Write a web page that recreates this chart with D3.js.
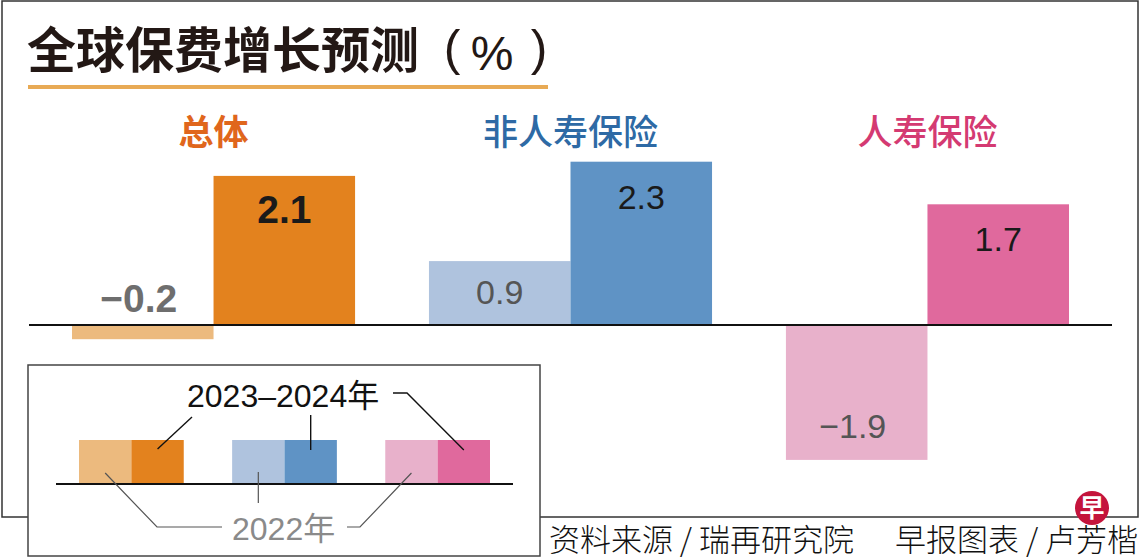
<!DOCTYPE html>
<html>
<head>
<meta charset="utf-8">
<script src="https://cdn.jsdelivr.net/npm/d3@7"></script>
<style>
  html, body { margin: 0; padding: 0; background: #fff; }
  svg { display: block; }
  .cjk { font-family: "Noto Sans CJK SC", sans-serif; }
  .num { font-family: "Liberation Sans", Arial, "Noto Sans CJK SC", sans-serif; }
</style>
</head>
<body>
<svg id="chart" width="1140" height="560"></svg>
<script>
// data
var categories = ['总体', '非人寿保险', '人寿保险'];
var periods = ['2022年', '2023–2024年'];
var values2022 = [-0.2, 0.9, -1.9];
var values2023 = [2.1, 2.3, 1.7];
var valueLabels2022 = ['−0.2', '0.9', '−1.9'];
var valueLabels2023 = ['2.1', '2.3', '1.7'];

var lightColors = ['#ecba7e', '#afc3de', '#e8b1cb'];
var darkColors = ['#e3821e', '#5f93c5', '#e0699d'];
var catColors = ['#e0661c', '#2e6aa5', '#d43a72'];

var svg = d3.select('#chart');

// outer frame
svg.append('rect')
    .attr('x', 2).attr('y', 1)
    .attr('width', 1136).attr('height', 516)
    .attr('fill', 'none')
    .attr('stroke', '#333')
    .attr('stroke-width', 1.5);

// title
var title = svg.append('g').attr('fill', '#231815');
title.append('text')
    .attr('class', 'cjk')
    .attr('x', 27).attr('y', 68)
    .attr('font-size', 49)
    .attr('font-weight', 'bold')
    .text('全球保费增长预测');
title.append('text')
    .attr('class', 'num')
    .attr('text-anchor', 'middle')
    .attr('x', 452).attr('y', 65)
    .attr('font-size', 50)
    .text('(');
title.append('text')
    .attr('class', 'num')
    .attr('text-anchor', 'middle')
    .attr('x', 492).attr('y', 70)
    .attr('font-size', 48)
    .text('%');
title.append('text')
    .attr('class', 'num')
    .attr('text-anchor', 'middle')
    .attr('x', 539).attr('y', 65)
    .attr('font-size', 50)
    .text(')');

svg.append('rect')
    .attr('x', 28).attr('y', 85)
    .attr('width', 520).attr('height', 4)
    .attr('fill', '#e8aa55');

// scales
var x0 = d3.scaleBand()
    .domain(categories)
    .range([72, 1069])
    .paddingInner(0.207);

var x1 = d3.scaleBand()
    .domain(periods)
    .range([0, x0.bandwidth()]);

var y = d3.scaleLinear()
    .domain([-2, 2.5])
    .range([467, 147.5]);

var rows = categories.map(function(c, i) {
    return [
        { cat: c, i: i, period: periods[0], value: values2022[i], label: valueLabels2022[i], color: lightColors[i], dark: false },
        { cat: c, i: i, period: periods[1], value: values2023[i], label: valueLabels2023[i], color: darkColors[i], dark: true }
    ];
});
var bars = [].concat.apply([], rows);

var g = svg.append('g');

g.selectAll('.bar')
    .data(bars)
    .enter().append('rect')
    .attr('class', 'bar')
    .attr('x', function(d) { return x0(d.cat) + x1(d.period); })
    .attr('width', x1.bandwidth())
    .attr('y', function(d) { return y(Math.max(0, d.value)); })
    .attr('height', function(d) { return Math.abs(y(d.value) - y(0)); })
    .attr('fill', function(d) { return d.color; });

// zero line
g.append('line')
    .attr('x1', 29).attr('x2', 1112)
    .attr('y1', y(0)).attr('y2', y(0))
    .attr('stroke', '#111')
    .attr('stroke-width', 2);

// value labels
g.selectAll('.val')
    .data(bars)
    .enter().append('text')
    .attr('class', 'val num')
    .attr('text-anchor', 'middle')
    .attr('x', function(d) { return x0(d.cat) + x1(d.period) + x1.bandwidth() / 2 - (d.value < 0 ? 4 : 0); })
    .attr('y', function(d) {
        var h = Math.abs(y(d.value) - y(0));
        if (d.dark) return y(d.value) + 47;
        if (h < 40) return y(0) - 13; // too small, sit above the axis
        if (d.value > 0) return y(0) - 21;
        return y(d.value) - 22;
    })
    .attr('font-size', function(d) { return (d.i === 0) ? 39 : 34; })
    .attr('font-weight', function(d) { return (d.i === 0) ? 'bold' : 'normal'; })
    .attr('fill', function(d) { return d.dark ? '#1a1a1a' : (d.i === 0 ? '#6e6e6e' : '#555'); })
    .text(function(d) { return d.label; });

// category labels
g.selectAll('.cat')
    .data(categories)
    .enter().append('text')
    .attr('class', 'cat cjk')
    .attr('text-anchor', 'middle')
    .attr('x', function(d) { return x0(d) + x0.bandwidth() / 2; })
    .attr('y', 145)
    .attr('font-size', 35)
    .attr('font-weight', function(d, i) { return i === 0 ? 'bold' : 500; })
    .attr('fill', function(d, i) { return catColors[i]; })
    .text(function(d) { return d; });

// legend
var lg = svg.append('g');
lg.append('rect')
    .attr('x', 28).attr('y', 365)
    .attr('width', 512).attr('height', 191)
    .attr('fill', '#fff')
    .attr('stroke', '#444')
    .attr('stroke-width', 1.5);

var lx0 = d3.scaleBand().domain(categories).range([79, 490]).paddingInner(0.316);
var lx1 = d3.scaleBand().domain(periods).range([0, lx0.bandwidth()]);
var lTop = 440, lBase = 484;

lg.selectAll('.sw')
    .data(bars)
    .enter().append('rect')
    .attr('class', 'sw')
    .attr('x', function(d) { return lx0(d.cat) + lx1(d.period); })
    .attr('width', lx1.bandwidth())
    .attr('y', lTop)
    .attr('height', lBase - lTop)
    .attr('fill', function(d) { return d.color; });

lg.append('line')
    .attr('x1', 56).attr('x2', 513)
    .attr('y1', lBase).attr('y2', lBase)
    .attr('stroke', '#111')
    .attr('stroke-width', 2);

function swCenter(ci, pi) {
    return lx0(categories[ci]) + lx1(periods[pi]) + lx1.bandwidth() / 2;
}

var line = d3.line();
var darkLeaders = [
    [[192, 417], [swCenter(0, 1), 449]],
    [[swCenter(1, 1), 415], [swCenter(1, 1), 450]],
    [[393, 393], [407, 393], [swCenter(2, 1), 450]]
];
var lightLeaders = [
    [[swCenter(0, 0), 473], [157, 527], [222, 527]],
    [[swCenter(1, 0), 472], [swCenter(1, 0), 503]],
    [[347, 527], [360, 527], [swCenter(2, 0), 473]]
];

lg.selectAll('.ld')
    .data(darkLeaders)
    .enter().append('path')
    .attr('d', line)
    .attr('fill', 'none')
    .attr('stroke', '#111')
    .attr('stroke-width', 1.4);

lg.selectAll('.ll')
    .data(lightLeaders)
    .enter().append('path')
    .attr('d', line)
    .attr('fill', 'none')
    .attr('stroke', '#555')
    .attr('stroke-width', 1.2);

lg.append('text')
    .attr('class', 'num')
    .attr('x', 187).attr('y', 407)
    .attr('font-size', 32)
    .attr('fill', '#111')
    .text(periods[1]);

lg.append('text')
    .attr('class', 'num')
    .attr('x', 232).attr('y', 540)
    .attr('font-size', 32)
    .attr('fill', '#8a8a8a')
    .text(periods[0]);

// source and credit
svg.append('text')
    .attr('class', 'cjk')
    .attr('x', 549).attr('y', 551)
    .attr('font-size', 31)
    .attr('font-weight', 300)
    .attr('fill', '#111')
    .text('资料来源 / 瑞再研究院');

svg.append('text')
    .attr('class', 'cjk')
    .attr('x', 1138).attr('y', 551)
    .attr('text-anchor', 'end')
    .attr('font-size', 31)
    .attr('font-weight', 300)
    .attr('fill', '#111')
    .text('早报图表 / 卢芳楷');

// paper logo
var logo = svg.append('g').attr('transform', 'translate(1092,508)');
logo.append('circle').attr('r', 17).attr('fill', '#c4143c');
logo.append('text')
    .attr('class', 'cjk')
    .attr('text-anchor', 'middle')
    .attr('y', 9)
    .attr('font-size', 25)
    .attr('font-weight', 'bold')
    .attr('fill', '#fff')
    .text('早');
</script>
</body>
</html>
